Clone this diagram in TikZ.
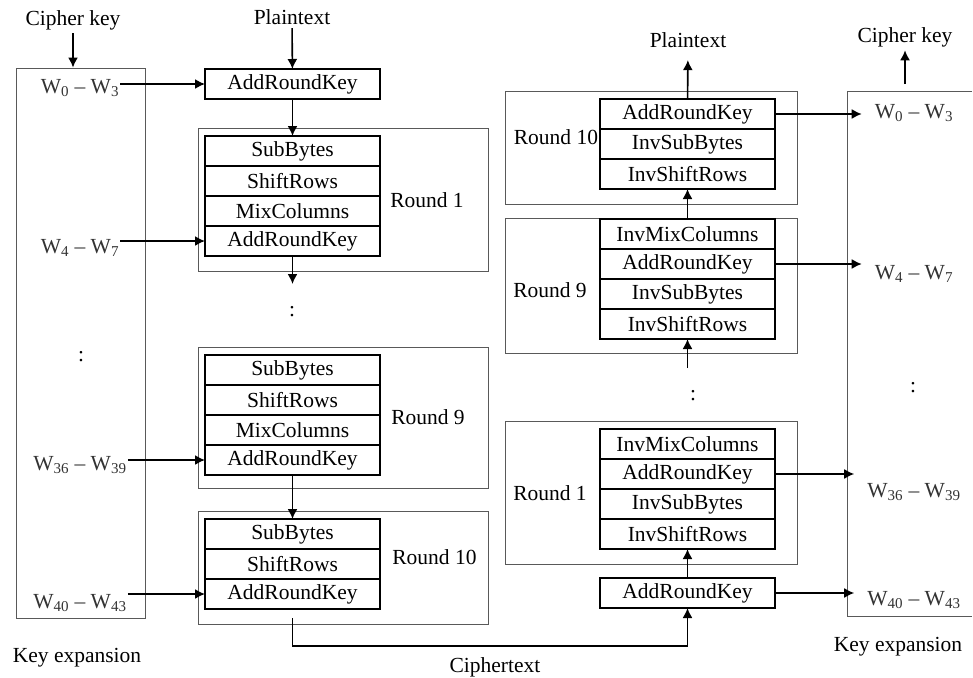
\documentclass[tikz,border=0pt]{standalone}
\usepackage{fontspec}
\setmainfont{Liberation Serif}
\usetikzlibrary{arrows.meta,positioning}

\tikzset{
  op/.style={draw, line width=1.6pt, minimum width=175pt, minimum height=30pt, inner sep=0pt, outer sep=0pt},
  frame/.style={draw=black!65, line width=0.9pt},
  flow/.style={line width=1.6pt, -{Latex[length=10pt,width=10pt]}},
  wlbl/.style={inner sep=1pt, anchor=base, text=black!80},
}

\begin{document}
\begin{tikzpicture}[x=1pt,y=-1pt,font=\fontsize{21.5}{24}\selectfont]
	\useasboundingbox (0,0) rectangle (973,677);
	
	% key expansion frames
	\node[frame, minimum width=129pt, minimum height=550pt, inner sep=0pt] (kexp) at (80.5,343) {};
	\draw[frame] (972,91) -- (847,91) -- (847,616) -- (972,616);
	
	% round frames, cipher
	\draw[frame] (198,128) rectangle (488,271);
	\draw[frame] (198,347) rectangle (488,488);
	\draw[frame] (198,511) rectangle (488,624);
	% round frames, inverse cipher
	\draw[frame] (505,91) rectangle (797,204);
	\draw[frame] (505,218) rectangle (797,353);
	\draw[frame] (505,421) rectangle (797,564);
	
	% cipher
	\node[op] (ark0) at (292.5,84) {AddRoundKey};
	
	\node[op, anchor=north] (sb1) at (292.5,136) {SubBytes};
	\node[op, below=0pt of sb1] (sr1) {ShiftRows};
	\node[op, below=0pt of sr1] (mc1) {MixColumns};
	\node[op, below=0pt of mc1] (ark1) {AddRoundKey};
	
	\node[op, anchor=north] (sb9) at (292.5,355) {SubBytes};
	\node[op, below=0pt of sb9] (sr9) {ShiftRows};
	\node[op, below=0pt of sr9] (mc9) {MixColumns};
	\node[op, below=0pt of mc9] (ark9) {AddRoundKey};
	
	\node[op, anchor=north] (sb10) at (292.5,519) {SubBytes};
	\node[op, below=0pt of sb10] (sr10) {ShiftRows};
	\node[op, below=0pt of sr10] (ark10) {AddRoundKey};
	
	% inverse cipher
	\node[op, anchor=north] (d10ark) at (687.5,99) {AddRoundKey};
	\node[op, below=0pt of d10ark] (d10isb) {InvSubBytes};
	\node[op, below=0pt of d10isb] (d10isr) {InvShiftRows};
	
	\node[op, anchor=north] (d9imc) at (687.5,219) {InvMixColumns};
	\node[op, below=0pt of d9imc] (d9ark) {AddRoundKey};
	\node[op, below=0pt of d9ark] (d9isb) {InvSubBytes};
	\node[op, below=0pt of d9isb] (d9isr) {InvShiftRows};
	
	\node[op, anchor=north] (d1imc) at (687.5,429) {InvMixColumns};
	\node[op, below=0pt of d1imc] (d1ark) {AddRoundKey};
	\node[op, below=0pt of d1ark] (d1isb) {InvSubBytes};
	\node[op, below=0pt of d1isb] (d1isr) {InvShiftRows};
	
	\node[op] (d0ark) at (687.5,593) {AddRoundKey};
	
	% texts
	\node (ptin) at (292,17) {Plaintext};
	\node (ckin) at (73,20) {Cipher key};
	\node (ptout) at (688,40) {Plaintext};
	\node (ckout) at (905,37) {Cipher key};
	\node (ctxt) at (495,667) {Ciphertext};
	\node (kexpl) at (77,658) {Key expansion};
	\node (kexpr) at (898,647) {Key expansion};
	
	\node (rl1) at (427,200) {Round 1};
	\node (rl9) at (428,417) {Round 9};
	\node (rl10) at (434.5,557) {Round 10};
	\node (rr10) at (556,137) {Round 10};
	\node (rr9) at (550,290) {Round 9};
	\node (rr1) at (550,493) {Round 1};
	
	\node (dotl) at (81,357) {:};
	\node (dotc) at (292,312) {:};
	\node (dotd) at (693,396) {:};
	\node (dotr) at (913,388) {:};
	
	\node[wlbl] (k0) at (80,93) {W\textsubscript{0} – W\textsubscript{3}};
	\node[wlbl] (k4) at (80,253) {W\textsubscript{4} – W\textsubscript{7}};
	\node[wlbl] (k36) at (80,470) {W\textsubscript{36} – W\textsubscript{39}};
	\node[wlbl] (k40) at (80,608) {W\textsubscript{40} – W\textsubscript{43}};
	\node[wlbl] (kd0) at (914,118) {W\textsubscript{0} – W\textsubscript{3}};
	\node[wlbl] (kd4) at (914,279) {W\textsubscript{4} – W\textsubscript{7}};
	\node[wlbl] (kd36) at (914,497) {W\textsubscript{36} – W\textsubscript{39}};
	\node[wlbl] (kd40) at (914,605) {W\textsubscript{40} – W\textsubscript{43}};
	
	\coordinate (gapl) at (292.5,284);
	\coordinate (gapr) at (687.5,368);
	\coordinate (ckfoot) at (905,84);
	\coordinate (ctbend) at (292.5,646);
	
	% cipher flow
	\draw[flow] (ptin) -- (ark0);
	\draw[flow] (ckin) -- (ckin |- kexp.north);
	\draw[flow] (ark0) -- (sb1);
	\draw[flow] (ark1) -- (gapl);
	\draw[flow] (ark9) -- (sb10);
	\draw[flow, shorten <=9pt] (ark10.south) -- (ctbend) -| (d0ark.south);
	
	\draw[flow] (k0.east |- ark0) -- (ark0.west);
	\draw[flow] (k4.east |- ark1) -- (ark1.west);
	\draw[flow] (k36.east |- ark9) -- (ark9.west);
	\draw[flow] (k40.east |- ark10) -- (ark10.west);
	
	% inverse cipher flow
	\draw[flow] (d0ark) -- (d1isr);
	\draw[flow] (gapr) -- (d9isr);
	\draw[flow] (d9imc) -- (d10isr);
	\draw[flow, shorten >=9pt] (d10ark) -- (ptout);
	\draw[flow] (ckfoot) -- (ckout);
	
	\draw[flow, shorten >=12pt] (d10ark.east) -- (kd0.west |- d10ark);
	\draw[flow, shorten >=12pt] (d9ark.east) -- (kd4.west |- d9ark);
	\draw[flow, shorten >=12pt] (d1ark.east) -- (kd36.west |- d1ark);
	\draw[flow, shorten >=12pt] (d0ark.east) -- (kd40.west |- d0ark);
\end{tikzpicture}
\end{document}
